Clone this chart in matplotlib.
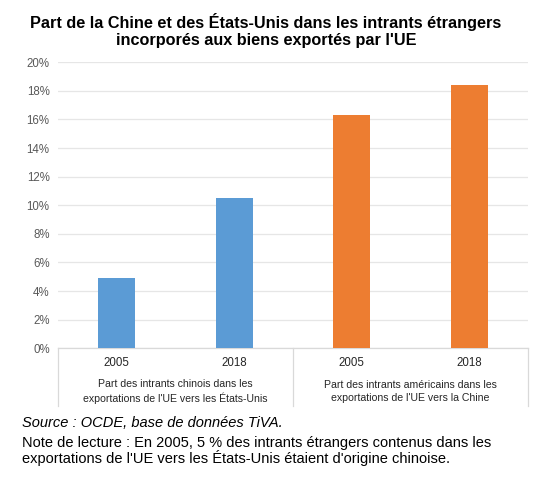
import matplotlib
matplotlib.use("Agg")
import matplotlib.pyplot as plt
import matplotlib.transforms as mtransforms
from matplotlib.lines import Line2D

plt.rcParams['font.family'] = ['Liberation Sans', 'DejaVu Sans']

years = ["2005", "2018", "2005", "2018"]
groups = ["Part des intrants chinois dans les\nexportations de l'UE vers les États-Unis",
          "Part des intrants américains dans les\nexportations de l'UE vers la Chine"]
values = [4.9, 10.5, 16.3, 18.4]
colors = ["#5B9BD5", "#5B9BD5", "#ED7D31", "#ED7D31"]
yticks = [0, 2, 4, 6, 8, 10, 12, 14, 16, 18, 20]
title = "Part de la Chine et des États-Unis dans les intrants étrangers\nincorporés aux biens exportés par l'UE"
source = "Source : OCDE, base de données TiVA."
note = ("Note de lecture : En 2005, 5 % des intrants étrangers contenus dans les\n"
        "exportations de l'UE vers les États-Unis étaient d'origine chinoise.")

W, H = 547, 486
fig = plt.figure(figsize=(W / 100, H / 100), dpi=100)
ax = fig.add_axes([58 / W, (H - 348.3) / H, 470 / W, 286 / H])

x = list(range(len(values)))
ax.bar(x, values, width=0.315, color=colors, zorder=3)
ax.set_xlim(-0.5, len(values) - 0.5)
ax.set_ylim(0, 20)
ax.set_yticks(yticks)
ax.set_yticklabels([f"{t}%" for t in yticks], fontsize=8.3, color="#595959")
ax.tick_params(axis='y', length=0, pad=6)
ax.set_xticks([])
ax.grid(axis='y', color="#E6E6E6", linewidth=0.9, zorder=0)
for s in ['top', 'right', 'left']:
    ax.spines[s].set_visible(False)
ax.spines['bottom'].set_color("#D9D9D9")
ax.spines['bottom'].set_linewidth(0.9)

trans = mtransforms.blended_transform_factory(ax.transData, fig.transFigure)
for xi, yr in zip(x, years):
    ax.text(xi, (H - 363) / H, yr, transform=trans, ha='center', va='center',
            fontsize=8.3, color="#262626")
for gi, g in enumerate(groups):
    ax.text(2 * gi + 0.5, (H - 391.5) / H, g, transform=trans, ha='center', va='center',
            fontsize=7.6, color="#262626", linespacing=1.3)
for sx in [-0.5, 1.5, 3.5]:
    ax.add_line(Line2D([sx, sx], [(H - 348.3) / H, (H - 406) / H], transform=trans,
                       color="#D9D9D9", linewidth=0.9, clip_on=False))

fig.text(266 / W, (H - 30.5) / H, title, ha='center', va='center', fontsize=11.7,
         fontweight='bold', color="#000000", linespacing=1.15)
fig.text(22 / W, (H - 422.5) / H, source, ha='left', va='center', fontsize=10.5,
         style='italic', color="#000000")
fig.text(22 / W, (H - 451) / H, note, ha='left', va='center', fontsize=10.5,
         color="#000000", linespacing=1.05)

fig.savefig("out.png", dpi=100)
